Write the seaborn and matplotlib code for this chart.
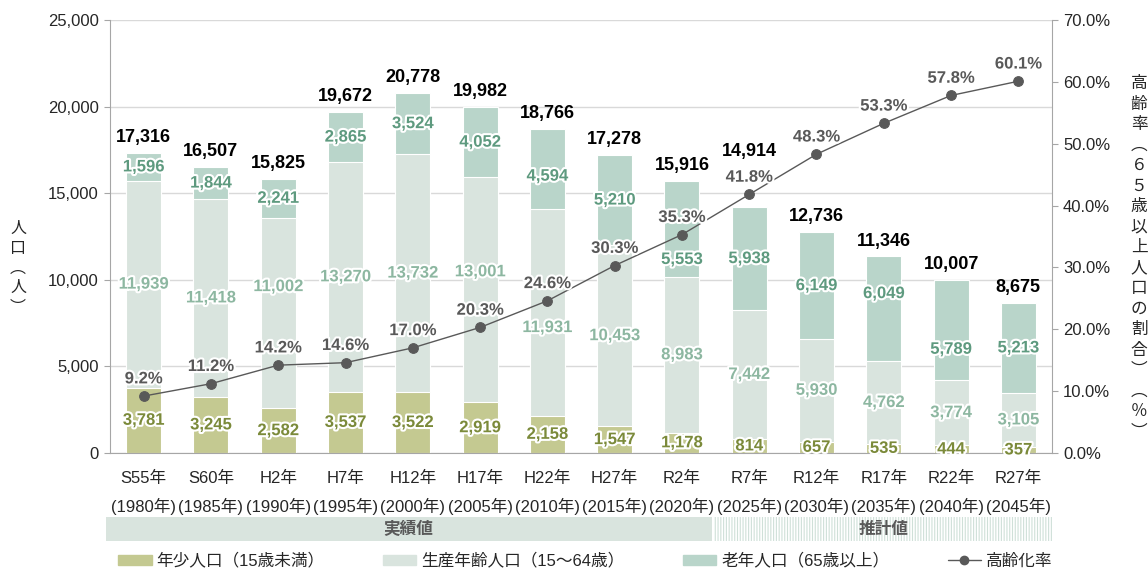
import seaborn as sns
import numpy as np
import matplotlib.pyplot as plt
import matplotlib.patheffects as pe
from matplotlib.patches import Rectangle, Patch
from matplotlib.lines import Line2D
from matplotlib.transforms import blended_transform_factory
from matplotlib.ticker import FuncFormatter, MultipleLocator

# data
eras = ["S55年", "S60年", "H2年", "H7年", "H12年", "H17年", "H22年",
        "H27年", "R2年", "R7年", "R12年", "R17年", "R22年", "R27年"]
years = ["(1980年)", "(1985年)", "(1990年)", "(1995年)", "(2000年)", "(2005年)", "(2010年)",
         "(2015年)", "(2020年)", "(2025年)", "(2030年)", "(2035年)", "(2040年)", "(2045年)"]
young = np.array([3781, 3245, 2582, 3537, 3522, 2919, 2158, 1547, 1178, 814, 657, 535, 444, 357])
working = np.array([11939, 11418, 11002, 13270, 13732, 13001, 11931, 10453, 8983, 7442, 5930, 4762, 3774, 3105])
elder = np.array([1596, 1844, 2241, 2865, 3524, 4052, 4594, 5210, 5553, 5938, 6149, 6049, 5789, 5213])
totals = [17316, 16507, 15825, 19672, 20778, 19982, 18766, 17278, 15916, 14914, 12736, 11346, 10007, 8675]
rate = np.array([9.2, 11.2, 14.2, 14.6, 17.0, 20.3, 24.6, 30.3, 35.3, 41.8, 48.3, 53.3, 57.8, 60.1])

# label nudges (points, + is up) so the labels dodge the rate line
work_nudge = [0, 0, 19, 0, 0, 13, -11, 0, 0, 0, 0, 0, 0, 0]
elder_nudge = [0, 0, 0, 0, 0, 0, -5, 0, -22, 0, 0, 11, -14, 0]
total_lift = [0, 0, 0, 0, 0, 0, 0, 0, 0, 29, 0, 0, 0, 0]

c_young = "#c4c991"
c_work = "#d9e4de"
c_elder = "#b9d5ca"
t_young = "#7b8a3a"
t_work = "#8db7a1"
t_elder = "#5e9a7f"
c_line = "#595959"

sns.set_style("white")
plt.rcParams['font.family'] = ['Liberation Sans', 'Noto Sans CJK JP']

fig = plt.figure(figsize=(11.48, 5.69), dpi=100)
ax = fig.add_axes([110 / 1148, 1 - 453 / 569, 942 / 1148, 433 / 569])

cats = [f"{e}\n{y}" for e, y in zip(eras, years)]
x = np.arange(len(cats))

# stacked bars by overlaying cumulative sums
sns.barplot(x=cats, y=young + working + elder, color=c_elder, saturation=1, width=0.52,
            edgecolor="white", linewidth=0.8, ax=ax)
sns.barplot(x=cats, y=young + working, color=c_work, saturation=1, width=0.52,
            edgecolor="white", linewidth=0.8, ax=ax)
sns.barplot(x=cats, y=young, color=c_young, saturation=1, width=0.52,
            edgecolor="white", linewidth=0.8, ax=ax)

ax.set_ylim(0, 25000)
ax.set_xlim(-0.5, len(cats) - 0.5)
ax.yaxis.set_major_locator(MultipleLocator(5000))
ax.yaxis.set_major_formatter(FuncFormatter(lambda v, p: f"{int(v):,}"))
ax.yaxis.grid(True, color="#d9d9d9", linewidth=1)
ax.set_axisbelow(True)
for s in ["top", "right"]:
    ax.spines[s].set_visible(False)
for s in ["left", "bottom"]:
    ax.spines[s].set_color("#a6a6a6")
ax.tick_params(axis="y", length=4, color="#a6a6a6", labelsize=12, pad=4)
ax.tick_params(axis="x", which="major", length=0, labelsize=12, pad=13)
ax.set_xticks(x - 0.5, minor=True)
ax.tick_params(axis="x", which="minor", length=5, color="#a6a6a6")
for lab in ax.get_xticklabels():
    lab.set_linespacing(1.85)
ax.set_xlabel("")
ax.set_ylabel("")

stroke = [pe.withStroke(linewidth=3, foreground="white")]
for i in range(len(cats)):
    ax.text(i, young[i] / 2, f"{young[i]:,}", ha="center", va="center", fontsize=12,
            fontweight="bold", color=t_young, path_effects=stroke)
    ax.annotate(f"{working[i]:,}", (i, young[i] + working[i] / 2), xytext=(0, work_nudge[i]),
                textcoords="offset points", ha="center", va="center", fontsize=12,
                fontweight="bold", color=t_work, path_effects=stroke)
    ax.annotate(f"{elder[i]:,}", (i, young[i] + working[i] + elder[i] / 2),
                xytext=(0, elder_nudge[i]), textcoords="offset points", ha="center",
                va="center", fontsize=12, fontweight="bold", color=t_elder, path_effects=stroke)
    top = young[i] + working[i] + elder[i]
    ax.annotate(f"{totals[i]:,}", (i, top), xytext=(0, 5 + total_lift[i]),
                textcoords="offset points", ha="center", va="bottom", fontsize=13,
                fontweight="bold", color="black")

# ageing rate on the right axis
ax2 = ax.twinx()
sns.lineplot(x=x, y=rate, ax=ax2, color=c_line, linewidth=1, marker="o", markersize=7,
             markeredgecolor=c_line)
ax2.set_ylim(0, 70)
ax2.set_xlim(-0.5, len(cats) - 0.5)
ax2.yaxis.set_major_locator(MultipleLocator(10))
ax2.yaxis.set_major_formatter(FuncFormatter(lambda v, p: f"{v:.1f}%"))
for s in ["top", "left", "bottom"]:
    ax2.spines[s].set_visible(False)
ax2.spines["right"].set_color("#a6a6a6")
ax2.tick_params(axis="y", length=4, color="#a6a6a6", labelsize=12, pad=4)
ax2.set_ylabel("")
for i in range(len(cats)):
    ax2.annotate(f"{rate[i]:.1f}%", (i, rate[i]), xytext=(0, 7), textcoords="offset points",
                 ha="center", va="bottom", fontsize=12, fontweight="bold", color=c_line,
                 path_effects=stroke)

# vertical axis titles
fig.text(18 / 1148, 1 - 268 / 569, "\n".join("人口︵人︶"), ha="center", va="center",
         fontsize=11.5, linespacing=1.2, family=['Noto Sans CJK JP'])
fig.text(1139 / 1148, 1 - 258 / 569, "\n".join("高齢率︵６５歳以上人口の割合︶︵％︶"),
         ha="center", va="center", fontsize=12, linespacing=1.27, family=['Noto Sans CJK JP'])

# actual / projected band under the axis
tr = blended_transform_factory(ax.transData, fig.transFigure)
y0 = 1 - 541 / 569
h = 24 / 569
ax.add_patch(Rectangle((-0.56, y0), 9.0, h, transform=tr, clip_on=False,
                       facecolor=c_work, edgecolor="none"))
plt.rcParams['hatch.linewidth'] = 0.8
ax.add_patch(Rectangle((8.48, y0), 5.02, h, transform=tr, clip_on=False,
                       facecolor="white", edgecolor="#cfe0d8", hatch="||||||", linewidth=0))
ax.text(3.94, y0 + h / 2, "実績値", transform=tr, ha="center", va="center", fontsize=12,
        fontweight="bold", color=c_line)
ax.text(10.99, y0 + h / 2, "推計値", transform=tr, ha="center", va="center", fontsize=12,
        fontweight="bold", color=c_line)

# legend
handles = [Patch(color=c_young), Patch(color=c_work), Patch(color=c_elder),
           Line2D([], [], color=c_line, linewidth=1, marker="o", markersize=6)]
labels = ["年少人口（15歳未満）", "生産年齢人口（15〜64歳）", "老年人口（65歳以上）", "高齢化率"]
fig.legend(handles, labels, loc="lower left", bbox_to_anchor=(0.09, -0.026), ncol=4,
           frameon=False, fontsize=12, handlelength=2.0, handleheight=0.6,
           handletextpad=0.3, columnspacing=3.5)

fig.savefig("out.png", dpi=100)
